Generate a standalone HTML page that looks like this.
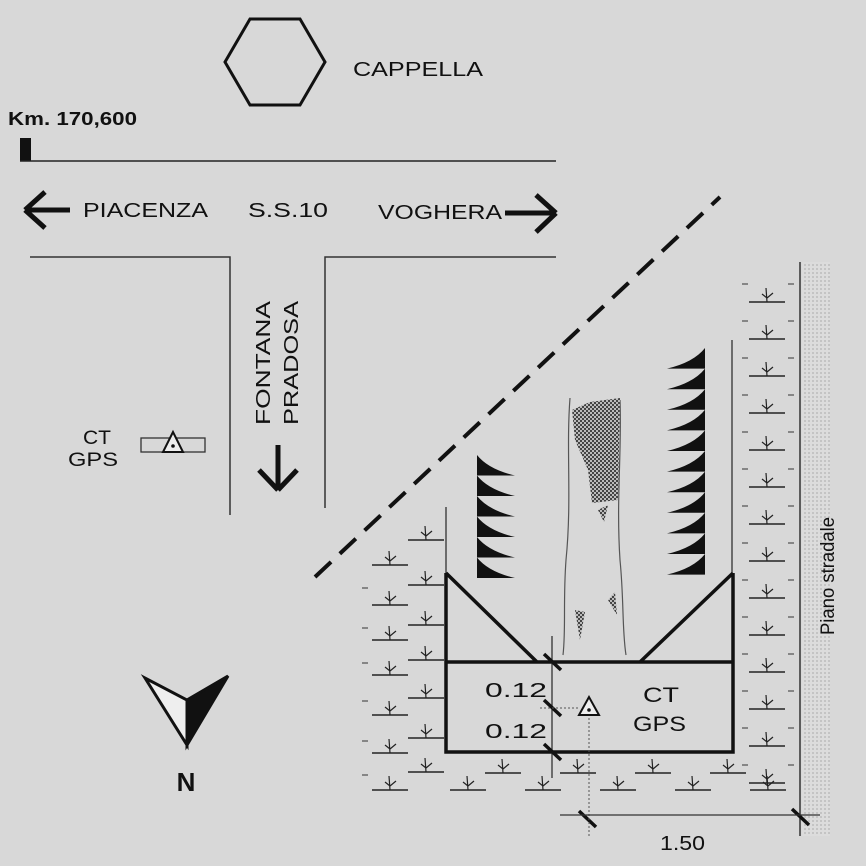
<!DOCTYPE html>
<html><head><meta charset="utf-8"><style>
html,body{margin:0;padding:0;background:#d8d8d8}
svg{display:block}
text{font-family:"Liberation Sans",Arial,sans-serif;fill:#111}
</style></head><body>
<svg id="s" width="866" height="866" viewBox="0 0 866 866" xmlns="http://www.w3.org/2000/svg">
<defs>
<pattern id="dots" width="4" height="4" patternUnits="userSpaceOnUse"><rect width="4" height="4" fill="#dcdcdc"/><circle cx="1" cy="1" r="0.6" fill="#888"/></pattern>
<pattern id="chk" width="4" height="4" patternUnits="userSpaceOnUse"><rect width="4" height="4" fill="#bbb"/><rect width="2" height="2" fill="#444"/><rect x="2" y="2" width="2" height="2" fill="#444"/></pattern>
<symbol id="pl" viewBox="0 0 36 20" overflow="visible"><line x1="0" y1="18" x2="36" y2="18" stroke="#222" stroke-width="1.4"/><path d="M18 18 L17 4 M18 14 L24 9 M18 14 L13 10" stroke="#222" stroke-width="1.2" fill="none"/></symbol>
</defs>
<rect width="866" height="866" fill="#d8d8d8"/>
<polygon points="225,62 250,19 300,19 325,62 300,105 250,105" fill="none" stroke="#111" stroke-width="3"/>
<text x="353" y="76" font-size="20" textLength="130" lengthAdjust="spacingAndGlyphs">CAPPELLA</text>
<text x="8" y="125" font-size="18" font-weight="bold" textLength="129" lengthAdjust="spacingAndGlyphs">Km. 170,600</text>
<rect x="20" y="138" width="11" height="23" fill="#111"/>
<line x1="20" y1="161" x2="556" y2="161" stroke="#222" stroke-width="1.5"/>
<path d="M25 210 H70 M25 210 L45 192 M25 210 L45 228" stroke="#111" stroke-width="5" fill="none"/>
<text x="83" y="217" font-size="20" textLength="125" lengthAdjust="spacingAndGlyphs">PIACENZA</text>
<text x="248" y="217" font-size="20" textLength="80" lengthAdjust="spacingAndGlyphs">S.S.10</text>
<text x="378" y="219" font-size="20" textLength="124" lengthAdjust="spacingAndGlyphs">VOGHERA</text>
<path d="M505 213 H556 M556 213 L536 195 M556 213 L536 232" stroke="#111" stroke-width="5" fill="none"/>
<path d="M30 257 H230 V515 M325 508 V257 H556" stroke="#333" stroke-width="1.5" fill="none"/>
<text transform="translate(270,425) rotate(-90)" font-size="20" textLength="124" lengthAdjust="spacingAndGlyphs">FONTANA</text>
<text transform="translate(298,425) rotate(-90)" font-size="20" textLength="124" lengthAdjust="spacingAndGlyphs">PRADOSA</text>
<path d="M278 445 V490 M278 490 L259 470 M278 490 L297 470" stroke="#111" stroke-width="5" fill="none"/>
<text x="83" y="444" font-size="19" textLength="28" lengthAdjust="spacingAndGlyphs">CT</text>
<text x="68" y="466" font-size="19" textLength="50" lengthAdjust="spacingAndGlyphs">GPS</text>
<rect x="141" y="438" width="64" height="14" fill="none" stroke="#333" stroke-width="1.3"/>
<polygon points="173,432 163,452 183,452" fill="#eee" stroke="#111" stroke-width="2"/>
<circle cx="173" cy="446" r="1.8" fill="#111"/>
<polygon points="145,678 187,745 187,700" fill="#eee" stroke="#111" stroke-width="3"/>
<polygon points="228,676 187,745 187,700" fill="#111" stroke="#111" stroke-width="3"/>
<text x="186" y="791" font-size="26" font-weight="bold" text-anchor="middle">N</text>
<line x1="315" y1="577" x2="720" y2="197" stroke="#111" stroke-width="4" stroke-dasharray="22,12"/>
<rect x="802" y="262" width="28" height="574" fill="url(#dots)"/>
<line x1="800" y1="262" x2="800" y2="836" stroke="#333" stroke-width="1.5"/>
<line x1="732" y1="340" x2="732" y2="575" stroke="#333" stroke-width="1.3"/>
<line x1="446" y1="507" x2="446" y2="575" stroke="#333" stroke-width="1.3"/>
<text transform="translate(834,635) rotate(-90)" font-size="19" textLength="118" lengthAdjust="spacingAndGlyphs">Piano  stradale</text>
<path d="M570 398 C566 450,572 500,566 560 C563 600,566 630,563 655" stroke="#555" fill="none" stroke-width="1.2"/>
<path d="M620 400 C622 450,616 500,620 560 C624 600,622 630,626 655" stroke="#555" fill="none" stroke-width="1.2"/>
<path d="M572 410 L590 402 L620 398 L618 500 L592 503 L588 470 L575 440 Z" fill="url(#chk)"/>
<path d="M598 510 L608 505 L604 522 Z M608 600 L615 592 L617 615 Z M575 610 L585 612 L580 640 Z" fill="url(#chk)"/>
<g id="teeth" fill="#111"></g>
<path d="M446 573 V752 H733 V573 M446 662 H733 M446 573 L537 662 M733 573 L640 662" stroke="#111" stroke-width="3.5" fill="none"/>
<line x1="552" y1="636" x2="552" y2="778" stroke="#333" stroke-width="1.3"/>
<path d="M544 654 L561 670 M544 700 L561 716 M544 744 L561 760 M579 811 L596 827 M792 809 L809 825" stroke="#111" stroke-width="3.5"/>
<line x1="540" y1="708" x2="580" y2="708" stroke="#555" stroke-dasharray="2,2"/>
<line x1="589" y1="718" x2="589" y2="838" stroke="#555" stroke-dasharray="2,2"/>
<line x1="560" y1="815" x2="820" y2="815" stroke="#333" stroke-width="1.3"/>
<text x="485" y="697" font-size="20" textLength="62" lengthAdjust="spacingAndGlyphs">0.12</text>
<text x="485" y="738" font-size="20" textLength="62" lengthAdjust="spacingAndGlyphs">0.12</text>
<text x="643" y="702" font-size="21" textLength="36" lengthAdjust="spacingAndGlyphs">CT</text>
<text x="633" y="731" font-size="21" textLength="53" lengthAdjust="spacingAndGlyphs">GPS</text>
<polygon points="589,697 579,715 599,715" fill="#eee" stroke="#111" stroke-width="2"/>
<circle cx="589" cy="710" r="1.8" fill="#111"/>
<text x="660" y="850" font-size="20" textLength="45" lengthAdjust="spacingAndGlyphs">1.50</text>
<g id="plants"></g>
</svg>
<script>
var NS="http://www.w3.org/2000/svg";
function pl(x,y){var u=document.createElementNS(NS,"use");u.setAttributeNS("http://www.w3.org/1999/xlink","href","#pl");u.setAttribute("href","#pl");u.setAttribute("x",x);u.setAttribute("y",y-18);u.setAttribute("width",36);u.setAttribute("height",20);document.getElementById("plants").appendChild(u);}
function dash(x,y){var l=document.createElementNS(NS,"line");l.setAttribute("x1",x);l.setAttribute("x2",x+6);l.setAttribute("y1",y);l.setAttribute("y2",y);l.setAttribute("stroke","#333");document.getElementById("plants").appendChild(l);}
[565,605,640,675,715,753,790].forEach(function(y){pl(372,y);});
[540,585,625,660,698,738,772].forEach(function(y){pl(408,y);});
[585,625,660,698,738,772].forEach(function(y){dash(362,y+3);});
for(var y=302;y<=790;y+=37){pl(749,y);dash(742,y-18);dash(788,y-18);}
[485,560,635,710].forEach(function(x){pl(x,773);});
[450,525,600,675,750].forEach(function(x){pl(x,790);});
var t=document.getElementById("teeth");
function tooth(x,y,dir,h){var p=document.createElementNS(NS,"path");var w=38*dir;
p.setAttribute("d","M"+x+" "+y+" Q"+(x+w*0.3)+" "+(y+h*0.7)+" "+(x+w)+" "+(y+h)+" L"+x+" "+(y+h)+" Z");t.appendChild(p);}
for(var i=0;i<6;i++)tooth(477,455+i*20.5,1,20.5);
for(var i=0;i<11;i++)tooth(705,348+i*20.6,-1,20.6);
</script>
</body></html>
